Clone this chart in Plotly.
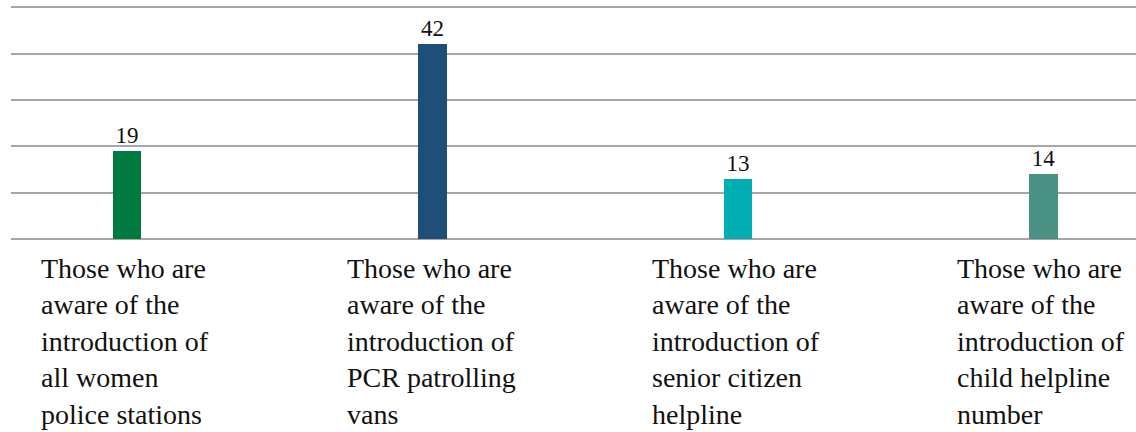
import plotly.graph_objects as go

# Survey awareness counts
categories = [
    "Those who are<br>aware of the<br>introduction of<br>all women<br>police stations",
    "Those who are<br>aware of the<br>introduction of<br>PCR patrolling<br>vans",
    "Those who are<br>aware of the<br>introduction of<br>senior citizen<br>helpline",
    "Those who are<br>aware of the<br>introduction of<br>child helpline<br>number",
]
values = [19, 42, 13, 14]
bar_colors = ["#007A3E", "#1F4E78", "#00ADB1", "#4A9283"]

positions = list(range(len(values)))
serif = "'Liberation Serif', 'Times New Roman', Times, 'DejaVu Serif', serif"

fig = go.Figure(
    go.Bar(
        x=positions,
        y=values,
        width=0.0917,
        marker=dict(color=bar_colors, line=dict(width=0)),
        text=[str(v) for v in values],
        textposition="outside",
        textfont=dict(family=serif, size=23, color="#111111"),
        cliponaxis=False,
    )
)

# Category captions, left-aligned beneath each bar
for pos, label in zip(positions, categories):
    fig.add_annotation(
        x=pos, xref="x", y=0, yref="paper",
        xanchor="left", yanchor="top", xshift=-88, yshift=-12,
        text=label, align="left", showarrow=False,
        font=dict(family=serif, size=28, color="#111111"),
    )

fig.update_layout(
    width=1136, height=432,
    margin=dict(l=11, r=0, t=5, b=193),
    plot_bgcolor="white", paper_bgcolor="white",
    showlegend=False,
    bargap=0,
    font=dict(family=serif),
)
fig.update_xaxes(
    range=[-0.3797, 3.3028], showticklabels=False, showgrid=False,
    zeroline=False, showline=False, ticks="",
)
fig.update_yaxes(
    range=[0, 50.5], tickvals=[10, 20, 30, 40, 50], showticklabels=False,
    showgrid=True, gridcolor="#A6A6A6", gridwidth=1.5, zeroline=True,
    zerolinecolor="#A6A6A6", zerolinewidth=1.5, showline=False, ticks="",
)

fig.write_html("out.html")
